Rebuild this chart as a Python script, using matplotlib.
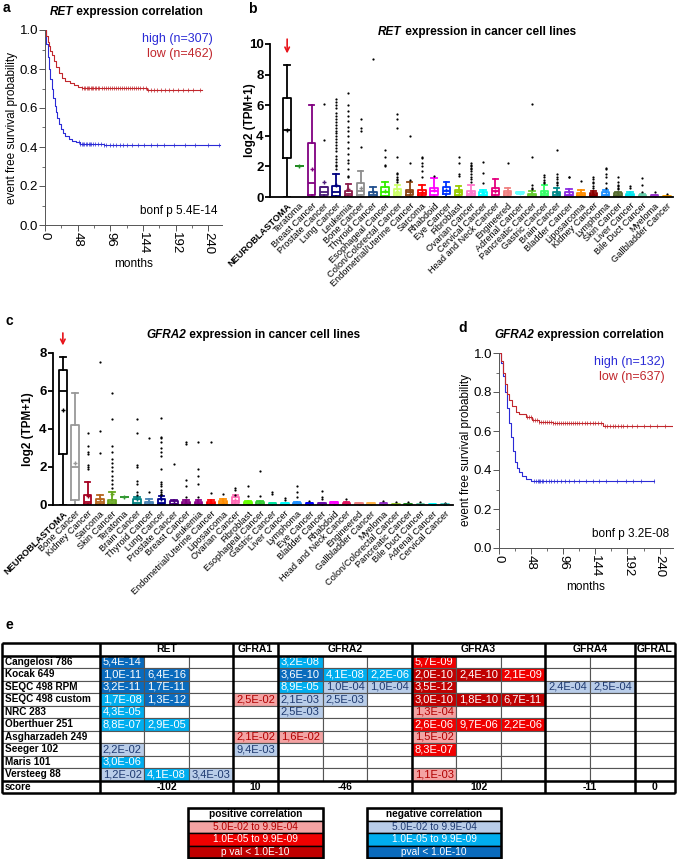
import numpy as np
import matplotlib
matplotlib.use('Agg')
import matplotlib.pyplot as plt
from matplotlib.table import Table
from matplotlib.ticker import MultipleLocator

plt.rcParams['font.family'] = ['Liberation Sans', 'DejaVu Sans']

# ---------------- panel a data (RET KM) ----------------
a_high_t = [0, 2, 4, 6, 8, 10, 12, 14, 16, 18, 20, 23, 26, 30, 35, 40, 46, 52, 86]
a_high_s = [1.0, 0.93, 0.86, 0.80, 0.75, 0.70, 0.65, 0.61, 0.58, 0.55, 0.52, 0.49, 0.47, 0.455, 0.44, 0.43, 0.425, 0.415, 0.41]
a_high_end = 257
a_high_cens = [50, 52, 54, 56, 58, 60, 62, 64, 66, 68, 70, 74, 78, 82, 86, 90, 95, 100, 105, 110,
               115, 120, 128, 136, 145, 155, 165, 175, 190, 205, 220, 240, 255]
a_low_t = [0, 2, 4, 6, 8, 10, 13, 16, 20, 25, 30, 36, 42, 48, 55, 150]
a_low_s = [1.0, 0.97, 0.94, 0.92, 0.89, 0.87, 0.84, 0.81, 0.78, 0.755, 0.74, 0.73, 0.72, 0.71, 0.705, 0.69]
a_low_end = 230
a_low_cens = [55, 57, 59, 61, 63, 65, 67, 69, 71, 73, 75, 78, 80, 83, 86, 89, 92, 95, 98, 101, 104,
              107, 110, 113, 116, 119, 122, 125, 128, 131, 134, 137, 140, 144, 148, 152, 156, 160,
              165, 170, 176, 182, 188, 195, 202, 210, 218, 228]

# ---------------- panel d data (GFRA2 KM) ----------------
d_high_t = [0, 3, 6, 9, 12, 15, 18, 21, 24, 27, 30, 34, 40, 48]
d_high_s = [1.0, 0.95, 0.88, 0.80, 0.72, 0.64, 0.57, 0.50, 0.44, 0.41, 0.39, 0.37, 0.355, 0.345]
d_high_end = 231
d_high_cens = [52, 56, 58, 60, 62, 64, 66, 70, 74, 78, 82, 86, 92, 98, 104, 112, 120, 130, 140,
               150, 160, 176, 190, 200, 212, 231]
d_low_t = [0, 3, 6, 9, 12, 15, 20, 25, 30, 40, 50, 60, 80, 156]
d_low_s = [1.0, 0.96, 0.90, 0.84, 0.79, 0.76, 0.73, 0.70, 0.685, 0.67, 0.655, 0.645, 0.64, 0.625]
d_low_end = 262
d_low_cens = [42, 45, 48, 51, 54, 57, 60, 63, 66, 69, 72, 75, 78, 81, 84, 87, 90, 93, 96, 99, 102,
              105, 108, 111, 114, 117, 120, 124, 128, 132, 136, 140, 144, 148, 152, 158, 162, 166,
              170, 174, 178, 182, 186, 192, 198, 206, 216, 226, 236, 248, 262]

# ---------------- panel b data (RET boxplots) ----------------
b_cats = ['NEUROBLASTOMA', 'Teratoma', 'Breast Cancer', 'Prostate Cancer', 'Lung Cancer', 'Leukemia',
          'Bone Cancer', 'Thyroid Cancer', 'Esophageal Cancer', 'Colon/Colorectal Cancer',
          'Endometrial/Uterine Cancer', 'Sarcoma', 'Rhabdoid', 'Eye Cancer', 'Fibroblast',
          'Ovarian Cancer', 'Cervical Cancer', 'Head and Neck Cancer', 'Engineered', 'Adrenal Cancer',
          'Pancreatic Cancer', 'Gastric Cancer', 'Brain Cancer', 'Bladder Cancer', 'Liposarcoma',
          'Kidney Cancer', 'Lymphoma', 'Skin Cancer', 'Liver Cancer', 'Bile Duct Cancer', 'Myeloma',
          'Gallbladder Cancer']
b_lo = [0, 2.0, 0, 0, 0, 0, 0, 0, 0, 0, 0, 0, 0, 0, 0, 0, 0, 0, 0, 0.2, 0, 0, 0, 0, 0, 0, 0, 0, 0, 0, 0, 0]
b_q1 = [2.55, 2.0, 0.15, 0.1, 0.05, 0.05, 0.1, 0.02, 0.05, 0.1, 0.1, 0.1, 0.1, 0.2, 0.1, 0.05,
        0.05, 0.1, 0.1, 0.25, 0.0, 0.05, 0.02, 0.05, 0.05, 0.05, 0.05, 0.05, 0.05, 0.02, 0.0, 0.0]
b_med = [4.35, 2.0, 0.9, 0.3, 0.3, 0.2, 0.4, 0.15, 0.3, 0.25, 0.3, 0.25, 0.4, 0.4, 0.3, 0.2,
         0.15, 0.4, 0.25, 0.27, 0.1, 0.2, 0.15, 0.15, 0.15, 0.12, 0.15, 0.1, 0.1, 0.08, 0.05, 0.02]
b_q3 = [6.5, 2.0, 3.5, 0.65, 0.7, 0.4, 0.9, 0.3, 0.65, 0.5, 0.45, 0.45, 0.6, 0.65, 0.45, 0.4,
        0.35, 0.6, 0.4, 0.3, 0.2, 0.4, 0.3, 0.3, 0.25, 0.25, 0.3, 0.25, 0.2, 0.15, 0.12, 0.05]
b_hi = [8.6, 2.0, 6.0, 0.65, 1.5, 0.85, 1.7, 0.65, 1.0, 0.8, 0.95, 0.8, 1.25, 0.95, 0.75, 0.8,
        0.45, 1.2, 0.6, 0.35, 0.4, 0.8, 0.6, 0.5, 0.45, 0.4, 0.45, 0.35, 0.35, 0.2, 0.15, 0.06]
b_mean = [4.4, 2.0, 1.8, 1.0, 0.8, 0.5, 0.6, 0.3, 0.4, 0.4, 0.35, 0.35, 0.45, 0.45, 0.35, 0.35,
          0.25, 0.4, 0.3, 0.27, 0.2, 0.3, 0.25, 0.2, 0.2, 0.2, 0.2, 0.15, 0.15, 0.15, 0.08, 0.03]
b_fliers = [[], [], [], [3.7, 6.1],
            [1.8, 2.0, 2.1, 2.3, 2.5, 2.7, 3.0, 3.2, 3.4, 3.6, 3.8, 4.0, 4.2, 4.3, 4.5, 4.7, 4.9, 5.1,
             5.3, 5.5, 5.8, 6.0, 6.2, 6.4],
            [1.3, 1.4, 1.8, 2.2, 2.4, 2.8, 3.2, 3.6, 4.0, 4.3, 4.6, 5.0, 5.3, 5.6, 6.0, 6.8],
            [3.3, 4.3, 4.5, 5.1], [9.05], [2.0, 2.1, 2.6, 3.1],
            [1.0, 1.1, 1.2, 1.3, 1.5, 1.6, 2.6, 4.5, 5.1, 5.45], [1.1, 2.2, 4.0],
            [1.3, 1.7, 2.0, 2.2, 2.55, 2.6], [1.4], [], [1.4, 1.5, 2.2, 2.6],
            [1.0, 1.2, 1.3, 1.5, 1.7, 1.8, 1.9, 2.0, 2.1, 2.2], [0.9, 1.6, 2.3], [], [2.2], [],
            [0.5, 0.6, 0.8, 2.6, 6.05], [0.9, 1.0, 1.1, 1.3, 1.45], [0.8, 0.9, 1.0, 1.2, 1.3, 1.5, 3.05],
            [1.3, 1.3], [1.05], [0.6, 0.7, 0.9, 1.0, 1.2, 1.3], [0.6, 0.9, 1.3, 1.5, 1.8, 1.9],
            [0.5, 0.6, 0.7, 0.8, 1.0, 1.3], [0.6, 0.7], [0.3, 0.8, 1.25], [0.3], [0.2]]
b_colors = ['#000000', '#228B22', '#800080', '#4B1C7A', '#000080', '#8B1A4A', '#8C8C8C', '#1F4E8C',
            '#33EE00', '#CCFF66', '#8B4513', '#FF0000', '#FF00FF', '#0033FF', '#99CC00', '#FF77CC',
            '#00FFFF', '#E5007E', '#F08080', '#66FFFF', '#66CC33', '#33FF66', '#008B8B', '#8A2BE2',
            '#FF8C00', '#8B0000', '#1E90FF', '#556B2F', '#00E5EE', '#66CDAA', '#9932CC', '#FFA500']

# ---------------- panel c data (GFRA2 boxplots) ----------------
c_cats = ['NEUROBLASTOMA', 'Bone Cancer', 'Kidney Cancer', 'Sarcoma', 'Skin Cancer', 'Teratoma',
          'Brain Cancer', 'Thyroid Cancer', 'Lung Cancer', 'Prostate Cancer', 'Breast Cancer',
          'Leukemia', 'Endometrial/Uterine Cancer', 'Liposarcoma', 'Ovarian Cancer', 'Fibroblast',
          'Esophageal Cancer', 'Gastric Cancer', 'Liver Cancer', 'Lymphoma', 'Eye Cancer',
          'Bladder Cancer', 'Rhabdoid', 'Head and Neck Cancer', 'Engineered', 'Gallbladder Cancer',
          'Myeloma', 'Colon/Colorectal Cancer', 'Pancreatic Cancer', 'Bile Duct Cancer',
          'Adrenal Cancer', 'Cervical Cancer']
c_lo = [0, 0, 0, 0, 0, 0.4, 0, 0, 0, 0, 0, 0, 0, 0, 0, 0, 0, 0, 0, 0, 0, 0, 0, 0, 0, 0, 0, 0, 0, 0, 0, 0]
c_q1 = [2.7, 0.25, 0.05, 0.05, 0.05, 0.4, 0.02, 0.0, 0.03, 0.0, 0.0, 0.0, 0.0, 0.02, 0.1, 0.02,
        0.0, 0.0, 0.0, 0.0, 0.0, 0.0, 0.0, 0.0, 0.0, 0.0, 0.0, 0.0, 0.0, 0.0, 0.0, 0.0]
c_med = [6.0, 2.0, 0.15, 0.15, 0.15, 0.4, 0.1, 0.05, 0.1, 0.05, 0.05, 0.05, 0.05, 0.1, 0.2, 0.1,
         0.05, 0.03, 0.03, 0.03, 0.02, 0.02, 0.05, 0.05, 0.05, 0.05, 0.02, 0.02, 0.02, 0.02, 0.01, 0.01]
c_q3 = [7.1, 4.2, 0.55, 0.3, 0.25, 0.4, 0.3, 0.15, 0.3, 0.2, 0.15, 0.15, 0.15, 0.2, 0.4, 0.18,
        0.15, 0.1, 0.1, 0.12, 0.1, 0.08, 0.15, 0.12, 0.12, 0.12, 0.08, 0.05, 0.05, 0.04, 0.03, 0.03]
c_hi = [7.8, 5.9, 1.2, 0.5, 0.7, 0.4, 0.4, 0.3, 0.45, 0.25, 0.25, 0.25, 0.25, 0.3, 0.5, 0.2,
        0.2, 0.12, 0.12, 0.18, 0.12, 0.1, 0.18, 0.15, 0.12, 0.12, 0.1, 0.07, 0.06, 0.05, 0.04, 0.04]
c_mean = [5.0, 2.2, 0.45, 0.3, 0.6, 0.4, 0.3, 0.15, 0.3, 0.1, 0.1, 0.1, 0.1, 0.1, 0.25, 0.1,
          0.1, 0.05, 0.05, 0.05, 0.05, 0.05, 0.05, 0.05, 0.05, 0.05, 0.03, 0.02, 0.02, 0.02, 0.01, 0.01]
c_fliers = [[], [], [3.8, 3.1, 2.8, 2.7, 2.1, 2.0, 1.9], [7.5, 3.9, 2.75],
            [5.9, 4.5, 3.1, 2.8, 2.4, 2.2, 2.0, 1.8, 1.5, 1.3, 1.1, 0.9], [],
            [4.55, 3.8, 2.1, 2.0, 1.25, 1.1, 0.7, 0.5], [3.55, 0.7],
            [4.6, 3.6, 3.5, 3.3, 3.0, 2.8, 2.6, 1.9, 1.2, 1.1, 1.0, 0.8, 0.7, 0.6, 0.5],
            [2.15], [3.3, 3.2, 1.3, 1.0, 0.4], [3.3, 1.9, 1.5, 1.1, 0.4], [3.3, 0.65], [0.6],
            [0.9, 0.8, 0.55], [1.0, 0.45], [1.8, 0.45], [0.7, 0.6], [0.35, 0.25], [1.0, 0.7, 0.4],
            [0.2], [0.75, 0.4, 0.3], [], [0.3], [], [], [0.2], [0.15], [0.15], [0.15], [], [0.1]]
c_colors = ['#000000', '#999999', '#A50021', '#B5651D', '#66A61E', '#339933', '#008080', '#4682B4',
            '#00008B', '#4B0082', '#800080', '#8B008B', '#FF0000', '#FF8C00', '#FF69B4', '#66FF00',
            '#33CC33', '#00E5A0', '#00FFFF', '#1E90FF', '#0000FF', '#6A0DAD', '#FF00FF', '#E0115F',
            '#F08080', '#FFB347', '#9932CC', '#9ACD32', '#228B22', '#66CDAA', '#00FFFF', '#48D1CC']

# ---------------- panel e data (table) ----------------
tab_rows = ['Cangelosi 786', 'Kocak 649', 'SEQC 498 RPM', 'SEQC 498 custom', 'NRC 283',
            'Oberthuer 251', 'Asgharzadeh 249', 'Seeger 102', 'Maris 101', 'Versteeg 88']
# '-' = negative correlation, '+' = positive correlation; columns RET x3, GFRA1, GFRA2 x3, GFRA3 x3, GFRA4 x2, GFRAL
tab_cells = [
    ['-5,4E-14', '', '', '', '-3,2E-08', '', '', '+5,7E-09', '', '', '', '', ''],
    ['-1,0E-11', '-6,4E-16', '', '', '-3,6E-10', '-4,1E-08', '-2,2E-06', '+2,0E-10', '+2,4E-10', '+2,1E-09', '', '', ''],
    ['-3,2E-11', '-1,7E-11', '', '', '-8,9E-05', '-1,0E-04', '-1,0E-04', '+3,5E-12', '', '', '-2,4E-04', '-2,5E-04', ''],
    ['-1,7E-08', '-1,3E-12', '', '+2,5E-02', '-2,1E-03', '-2,5E-03', '', '+3,0E-10', '+1,8E-10', '+6,7E-11', '', '', ''],
    ['-4,3E-05', '', '', '', '-2,5E-03', '', '', '+1,3E-04', '', '', '', '', ''],
    ['-8,8E-07', '-2,9E-05', '', '', '', '', '', '+2,6E-06', '+9,7E-06', '+2,2E-06', '', '', ''],
    ['', '', '', '+2,1E-02', '+1,6E-02', '', '', '+1,5E-02', '', '', '', '', ''],
    ['-2,2E-02', '', '', '-9,4E-03', '', '', '', '+8,3E-07', '', '', '', '', ''],
    ['-3,0E-06', '', '', '', '', '', '', '', '', '', '', '', ''],
    ['-1,2E-02', '-4,1E-08', '-3,4E-03', '', '', '', '', '+1,1E-03', '', '', '', '', ''],
]
tab_groups = ['RET', 'GFRA1', 'GFRA2', 'GFRA3', 'GFRA4', 'GFRAL']
tab_group_span = [3, 1, 3, 3, 2, 1]
tab_scores = ['-102', '10', '-46', '102', '-11', '0']
legend_pos = ['positive correlation', '5.0E-02 to 9.9E-04', '1.0E-05 to 9.9E-09', 'p val < 1.0E-10']
legend_neg = ['negative correlation', '5.0E-02 to 9.9E-04', '1.0E-05 to 9.9E-09', 'pval < 1.0E-10']

# ---------------- styles ----------------
BLUE = '#2B2BD6'
RED = '#C1272D'
NEG_BG = ['#B9CDE9', '#00AEEF', '#0A6BBD']
NEG_FG = ['#1F3A70', 'white', 'white']
POS_BG = ['#F4A3A3', '#F00000', '#C00000']
POS_FG = ['#B00000', 'white', 'white']

W, H = 677, 859
fig = plt.figure(figsize=(W / 100, H / 100), dpi=100)


def ax_px(l, t, r, b):
    return fig.add_axes([l / W, 1 - b / H, (r - l) / W, (b - t) / H])


def fig_text(x, y, s, **kw):
    return fig.text(x / W, 1 - y / H, s, **kw)


def mixed_title(xc, yc, gene, rest, size):
    r = fig.canvas.get_renderer()
    t1 = fig_text(0, yc, gene, fontsize=size, fontweight='bold', fontstyle='italic', va='center')
    t2 = fig_text(0, yc, rest, fontsize=size, fontweight='bold', va='center')
    w1 = t1.get_window_extent(r).width
    w2 = t2.get_window_extent(r).width
    x0 = xc - (w1 + w2) / 2
    t1.set_x(x0 / W)
    t2.set_x((x0 + w1) / W)


def step_value(t, s, c):
    idx = np.searchsorted(np.asarray(t), np.asarray(c), side='right') - 1
    return np.asarray(s)[idx]


def km_panel(ax, ht, hs, hend, hc, lt, ls, lend, lc, hlab, llab, ptxt):
    for t, s, end, cens, col in ((ht, hs, hend, hc, BLUE), (lt, ls, lend, lc, RED)):
        tt = list(t) + [end]
        ss = list(s) + [s[-1]]
        ax.step(tt, ss, where='post', color=col, lw=0.8)
        ax.plot(cens, step_value(t, s, cens), ls='none', marker='|', ms=2.6, mew=0.5, color=col)
    ax.set_xlim(0, 260)
    ax.set_ylim(0, 1.0)
    for sp in ('top', 'right'):
        ax.spines[sp].set_visible(False)
    for sp in ('left', 'bottom'):
        ax.spines[sp].set_color('#555555')
        ax.spines[sp].set_linewidth(0.7)
    ax.set_xticks([0, 48, 96, 144, 192, 240])
    ax.xaxis.set_minor_locator(MultipleLocator(24))
    ax.set_yticks(np.arange(0, 1.01, 0.2))
    ax.yaxis.set_minor_locator(MultipleLocator(0.1))
    ax.set_yticklabels(['0.0', '0.2', '0.4', '0.6', '0.8', '1.0'])
    ax.tick_params(which='major', length=4, width=0.7, color='#555555', labelsize=9.5, pad=1)
    ax.tick_params(which='minor', length=2.5, width=0.6, color='#555555')
    for lab in ax.get_xticklabels():
        lab.set_rotation(270)
    ax.set_xlabel('months', fontsize=8.5, labelpad=3)
    ax.set_ylabel('event free survival probability', fontsize=8.5, labelpad=1)
    ax.text(0.95, 0.955, hlab, transform=ax.transAxes, ha='right', va='center', color=BLUE, fontsize=9)
    ax.text(0.95, 0.875, llab, transform=ax.transAxes, ha='right', va='center', color=RED, fontsize=9)
    ax.text(0.975, 0.07, ptxt, transform=ax.transAxes, ha='right', va='center', fontsize=8.5)


def box_panel(ax, cats, lo, q1, med, q3, hi, mean, fliers, colors, ymax, ystep, xlim, arrow, ylab_x):
    stats = [dict(whislo=lo[i], q1=q1[i], med=med[i], q3=q3[i], whishi=hi[i], mean=mean[i],
                  fliers=fliers[i], label=cats[i]) for i in range(len(cats))]
    pos = np.arange(len(cats))
    art = ax.bxp(stats, positions=pos, widths=0.62, capwidths=0.45, showmeans=True, showfliers=True)
    for i, c in enumerate(colors):
        art['boxes'][i].set(color=c, lw=1.3)
        art['medians'][i].set(color=c, lw=1.3)
        for ln in art['whiskers'][2 * i:2 * i + 2] + art['caps'][2 * i:2 * i + 2]:
            ln.set(color=c, lw=1.3)
        art['means'][i].set(marker='+', markeredgecolor=c, markerfacecolor=c, markersize=3.5, markeredgewidth=1)
        art['fliers'][i].set(marker='o', markersize=1.6, markerfacecolor='black', markeredgecolor='black',
                             markeredgewidth=0)
    ax.set_xlim(*xlim)
    ax.set_ylim(0, ymax)
    for sp in ('top', 'right'):
        ax.spines[sp].set_visible(False)
    ax.spines['left'].set_linewidth(1.3)
    ax.spines['bottom'].set_linewidth(1.3)
    ax.set_yticks(np.arange(0, ymax + 0.01, ystep))
    ax.tick_params(axis='y', length=3.5, width=1.3, labelsize=9.5, pad=1)
    for lab in ax.get_yticklabels():
        lab.set_fontweight('bold')
    ax.set_xticks(pos)
    ax.set_xticklabels(cats, rotation=45, ha='right', va='top', rotation_mode='anchor', fontsize=6.7)
    ax.tick_params(axis='x', length=0, pad=3)
    ax.get_xticklabels()[0].set_fontweight('bold')
    ax.set_ylabel('log2 (TPM+1)', fontsize=8.5, fontweight='bold')
    ax.yaxis.set_label_coords(ylab_x, 0.5)
    ax.annotate('', xy=(0, arrow[1]), xytext=(0, arrow[0]), annotation_clip=False,
                arrowprops=dict(arrowstyle='->', color='#E8141B', lw=1.2, mutation_scale=8))


# ---------------- panel a ----------------
axa = ax_px(45, 30, 222, 225)
km_panel(axa, a_high_t, a_high_s, a_high_end, a_high_cens, a_low_t, a_low_s, a_low_end, a_low_cens,
         'high (n=307)', 'low (n=462)', 'bonf p 5.4E-14')

# ---------------- panel b ----------------
axb = ax_px(270, 44, 673, 197)
box_panel(axb, b_cats, b_lo, b_q1, b_med, b_q3, b_hi, b_mean, b_fliers, b_colors, 10, 2, (-1.4, 31.5),
          (10.5, 9.2), -0.035)

# ---------------- panel c ----------------
axc = ax_px(53, 353, 453, 505)
box_panel(axc, c_cats, c_lo, c_q1, c_med, c_q3, c_hi, c_mean, c_fliers, c_colors, 8, 2, (-0.8, 31.65),
          (9.2, 8.25), -0.048)

# ---------------- panel d ----------------
axd = ax_px(499, 353, 673, 548)
km_panel(axd, d_high_t, d_high_s, d_high_end, d_high_cens, d_low_t, d_low_s, d_low_end, d_low_cens,
         'high (n=132)', 'low (n=637)', 'bonf p 3.2E-08')

# ---------------- titles and letters ----------------
mixed_title(126, 12, 'RET', ' expression correlation', 8.5)
mixed_title(477, 32, 'RET', ' expression in cancer cell lines', 8.5)
mixed_title(253, 335, 'GFRA2', ' expression in cancer cell lines', 8.5)
mixed_title(579, 335, 'GFRA2', ' expression correlation', 8.5)
for letter, x, y in (('a', 3, 8), ('b', 248, 9), ('c', 5, 321), ('d', 458, 328), ('e', 5, 625)):
    fig_text(x, y, letter, fontsize=10, fontweight='bold', va='center')


# ---------------- panel e: table ----------------
def p_class(s):
    v = float(s[1:].replace(',', '.'))
    return 2 if v < 1e-9 else (1 if v < 1e-4 else 0)


col_px = [98] + [44.3] * 3 + [45] + [44.7] * 3 + [44.3] * 3 + [45] * 2 + [40]
widths = np.array(col_px) / sum(col_px)
xedges = np.concatenate([[0], np.cumsum(widths)])
nrow = len(tab_rows) + 2
rh = 1.0 / nrow

axe = ax_px(2, 643, 675, 793)
axe.set_xlim(0, 1)
axe.set_ylim(0, 1)
axe.axis('off')
tb = Table(axe, bbox=[0, 0, 1, 1])
tb.auto_set_font_size(False)
EC = '#555555'

# group starts (data columns are 1..13)
g_start = np.concatenate([[1], 1 + np.cumsum(tab_group_span)[:-1]])


def span_edges(col):
    for gs, sp in zip(g_start, tab_group_span):
        if gs <= col < gs + sp:
            e = 'TB'
            if col == gs:
                e += 'L'
            if col == gs + sp - 1:
                e += 'R'
            return e
    return 'closed'


for r in range(nrow):
    for c in range(len(col_px)):
        text, fc, tc, loc, weight, fs = '', 'white', 'black', 'center', 'normal', 8
        edges = 'closed'
        if r == 0:
            edges = 'closed' if c == 0 else span_edges(c)
        elif r == nrow - 1:
            if c == 0:
                text, loc, weight, fs = 'score', 'left', 'bold', 7.2
            else:
                edges = span_edges(c)
        else:
            if c == 0:
                text, loc, weight, fs = tab_rows[r - 1], 'left', 'bold', 7.2
            else:
                s = tab_cells[r - 1][c - 1]
                if s:
                    k = p_class(s)
                    if s[0] == '-':
                        fc, tc = NEG_BG[k], NEG_FG[k]
                    else:
                        fc, tc = POS_BG[k], POS_FG[k]
                    text = s[1:]
        cell = tb.add_cell(r, c, width=widths[c], height=rh, text=text, loc=loc, facecolor=fc,
                           edgecolor=EC)
        cell.set_linewidth(0.8)
        cell.visible_edges = edges
        cell.PAD = 0.03
        cell.get_text().set(color=tc, fontweight=weight, fontsize=fs)
axe.add_table(tb)

for g, gs, sp, sc in zip(tab_groups, g_start, tab_group_span, tab_scores):
    xc = (xedges[gs] + xedges[gs + sp]) / 2
    axe.text(xc, 1 - rh / 2, g, ha='center', va='center', fontsize=7.5, fontweight='bold')
    axe.text(xc, rh / 2, sc, ha='center', va='center', fontsize=7.5, fontweight='bold')

bounds = [xedges[0]] + [xedges[gs] for gs in g_start] + [xedges[-1]]
axe.vlines(bounds, 0, 1, color='black', lw=1.8, clip_on=False, zorder=5)
axe.hlines([0, 1, 1 - rh, rh], 0, 1, color='black', lw=1.8, clip_on=False, zorder=5)


# ---------------- legend tables ----------------
def legend_table(l, t, r, b, labels, bgs, fgs):
    ax = ax_px(l, t, r, b)
    ax.set_xlim(0, 1)
    ax.set_ylim(0, 1)
    ax.axis('off')
    lt = Table(ax, bbox=[0, 0, 1, 1])
    lt.auto_set_font_size(False)
    n = len(labels)
    for i, lab in enumerate(labels):
        fc = 'white' if i == 0 else bgs[i - 1]
        tc = 'black' if i == 0 else fgs[i - 1]
        cell = lt.add_cell(i, 0, width=1, height=1 / n, text=lab, loc='center', facecolor=fc,
                           edgecolor='black')
        cell.set_linewidth(1.0)
        cell.get_text().set(color=tc, fontsize=7.3, fontweight='bold' if i == 0 else 'normal')
    ax.add_table(lt)
    ax.add_patch(plt.Rectangle((0, 0), 1, 1, fill=False, lw=1.8, ec='black', clip_on=False, zorder=5))


legend_table(188, 808, 323, 858, legend_pos, POS_BG, POS_FG)
legend_table(367, 808, 501, 858, legend_neg, NEG_BG, NEG_FG)

fig.savefig('out.png', dpi=100)
